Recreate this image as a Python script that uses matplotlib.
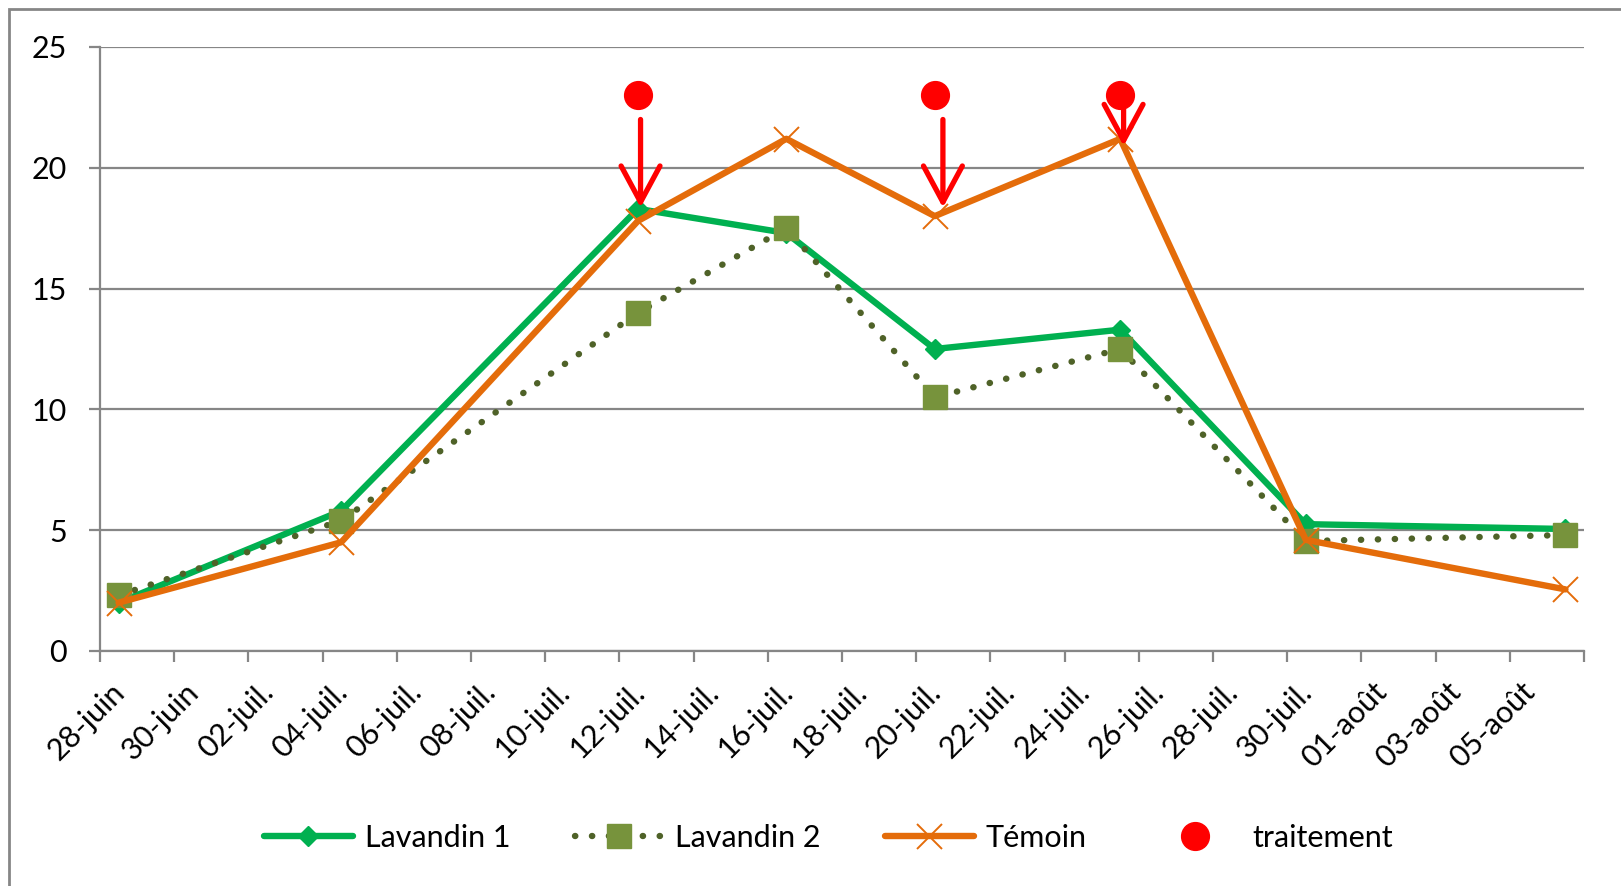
import matplotlib
matplotlib.use("Agg")
import matplotlib.pyplot as plt
import matplotlib.transforms as mtransforms
from matplotlib.patches import Rectangle
import pandas as pd
import numpy as np

plt.rcParams['font.family'] = ['Lato', 'DejaVu Sans']

# ---- data ----
start = "2013-06-28"
dates = ["2013-06-28", "2013-07-04", "2013-07-12", "2013-07-16",
         "2013-07-20", "2013-07-25", "2013-07-30", "2013-08-06"]
lavandin1 = [2.0, 5.8, 18.3, 17.3, 12.5, 13.3, 5.25, 5.05]
lavandin2 = [2.3, 5.4, 14.0, 17.5, 10.5, 12.5, 4.55, 4.8]
temoin = [2.0, 4.5, 17.8, 21.2, 18.0, 21.2, 4.6, 2.55]
traitement_dates = ["2013-07-12", "2013-07-20", "2013-07-25"]
traitement = [23.0, 23.0, 23.0]
arrow_top = [22.0, 22.0, 22.8]
arrow_tip = [18.35, 18.35, 20.9]
tick_labels = ["28-juin", "30-juin", "02-juil.", "04-juil.", "06-juil.", "08-juil.",
               "10-juil.", "12-juil.", "14-juil.", "16-juil.", "18-juil.", "20-juil.",
               "22-juil.", "24-juil.", "26-juil.", "28-juil.", "30-juil.", "01-août",
               "03-août", "05-août"]

t0 = pd.Timestamp(start)
x = np.array([(pd.Timestamp(d) - t0).days for d in dates], dtype=float)
xt = np.array([(pd.Timestamp(d) - t0).days for d in traitement_dates], dtype=float)
arrow_dx = [0.07, 0.22, 0.09]

W, H = 1621, 886
fig = plt.figure(figsize=(W / 100, H / 100), dpi=100)
ax = fig.add_axes([100 / W, 1 - 651 / H, (1584 - 100) / W, (651 - 47) / H])

gray = "#868686"
fs = 22

# outer border (chart area), clipped at right/bottom as in reference
fig.patches.append(Rectangle((9 / W, -0.05), 1.1, 1 - 9 / H + 0.05,
                             transform=fig.transFigure, fill=False,
                             edgecolor=gray, lw=2.0, zorder=0))

ax.set_xlim(-0.5, 39.5)
ax.set_ylim(0, 25)
ax.set_yticks(np.arange(0, 26, 5))
ax.grid(axis='y', color=gray, lw=1.6, zorder=0)
ax.set_axisbelow(True)
for s in ['top', 'right']:
    ax.spines[s].set_visible(False)
for s in ['left', 'bottom']:
    ax.spines[s].set_color(gray)
    ax.spines[s].set_linewidth(1.6)

ax.tick_params(axis='y', length=8, width=1.6, color=gray, pad=16, labelsize=fs)

major = np.arange(0, 39, 2)
ax.set_xticks(major)
ax.set_xticklabels(tick_labels, rotation=45, ha='right', va='top',
                   rotation_mode='anchor', fontsize=fs)
ax.set_xticks(np.arange(-0.5, 40, 2), minor=True)
ax.tick_params(axis='x', which='major', length=0, pad=19)
ax.tick_params(axis='x', which='minor', length=8, width=1.6, color=gray)
off = mtransforms.ScaledTranslation(-0.08, 0, fig.dpi_scale_trans)
for lab in ax.get_xticklabels():
    lab.set_transform(lab.get_transform() + off)

# ---- series ----
ax.plot(x, lavandin1, color="#00B050", lw=4.6, marker='D', markersize=10,
        markerfacecolor="#00B050", markeredgecolor="#00B050",
        label="Lavandin 1", zorder=3, solid_capstyle='round')
ax.plot(x, lavandin2, color="#4F6228", lw=4.6, linestyle=(0, (0.05, 2.6)),
        dash_capstyle='round', marker='s', markersize=17,
        markerfacecolor="#77933C", markeredgecolor="#77933C",
        label="Lavandin 2", zorder=4)
ax.plot(x, temoin, color="#E46C0A", lw=4.6, marker='x', markersize=18,
        markeredgewidth=1.4, markeredgecolor="#E46C0A",
        label="Témoin", zorder=5, solid_capstyle='round')
ax.plot(xt, traitement, linestyle='none', marker='o', markersize=20,
        color="#FF0000", label="traitement", zorder=6)

for xi, dx, yt, yb in zip(xt, arrow_dx, arrow_top, arrow_tip):
    ax.annotate("", xy=(xi + dx, yb), xytext=(xi + dx, yt),
                arrowprops=dict(arrowstyle="->,head_length=1.3,head_width=0.7",
                                color="#FF0000", lw=3.8, mutation_scale=20,
                                shrinkA=0, shrinkB=0, capstyle='round',
                                joinstyle='round'),
                zorder=7)

leg = fig.legend(loc='center', bbox_to_anchor=(0.511, 1 - 838 / H), ncol=4,
                 frameon=False, fontsize=fs, handlelength=2.9,
                 handletextpad=0.4, columnspacing=2.1)

fig.savefig("out.png", dpi=100)
